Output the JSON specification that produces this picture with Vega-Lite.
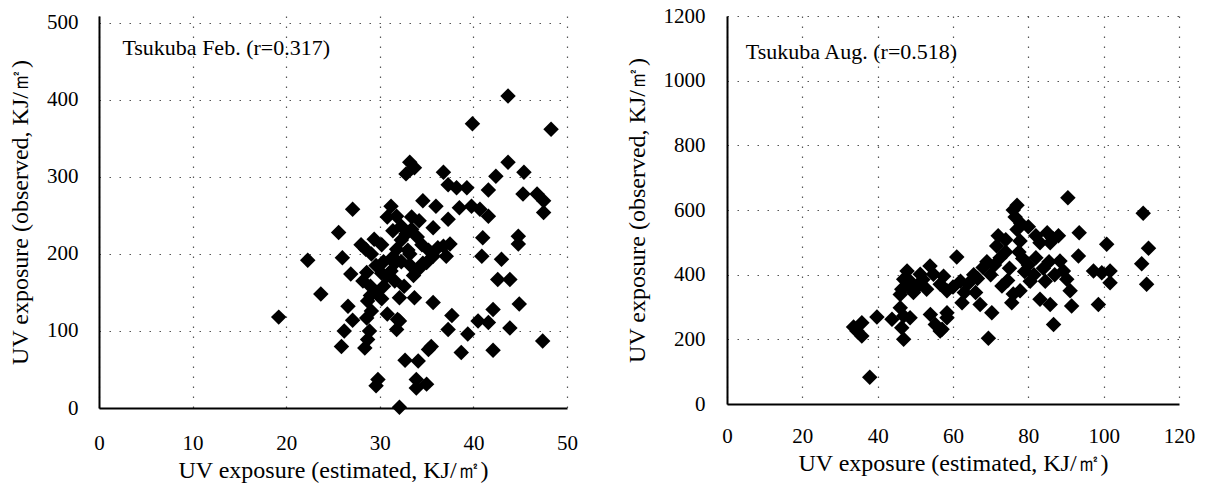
{
  "$schema": "https://vega.github.io/schema/vega-lite/v6.json",
  "background": "white",
  "padding": {"left": 8, "top": 5, "right": 5, "bottom": 2},
  "spacing": 47,
  "config": {
    "view": {"stroke": null},
    "font": "Liberation Serif",
    "axis": {
      "labelFont": "Liberation Serif",
      "titleFont": "Liberation Serif",
      "labelFontSize": 21,
      "titleFontSize": 24,
      "titleFontWeight": "normal",
      "labelColor": "black",
      "titleColor": "black",
      "domainColor": "black",
      "domainWidth": 2,
      "ticks": false,
      "tickSize": 0,
      "gridColor": "#555",
      "gridWidth": 1.2,
      "gridDash": [1.5, 8.5],
      "labelFlush": false,
      "labelOverlap": false,
      "format": "d"
    }
  },
  "datasets": {
    "feb": [
      {"est": 19.2, "obs": 118}, {"est": 22.3, "obs": 192}, {"est": 23.7, "obs": 148}, {"est": 26.0, "obs": 195},
      {"est": 25.6, "obs": 228}, {"est": 26.6, "obs": 132}, {"est": 27.1, "obs": 114}, {"est": 26.2, "obs": 100},
      {"est": 25.9, "obs": 80}, {"est": 26.9, "obs": 174}, {"est": 28.7, "obs": 139}, {"est": 29.1, "obs": 126},
      {"est": 28.6, "obs": 117}, {"est": 28.9, "obs": 100}, {"est": 28.7, "obs": 89}, {"est": 28.4, "obs": 78},
      {"est": 31.9, "obs": 115}, {"est": 31.8, "obs": 102}, {"est": 33.7, "obs": 143}, {"est": 32.7, "obs": 62},
      {"est": 34.1, "obs": 61}, {"est": 29.8, "obs": 37}, {"est": 29.6, "obs": 29}, {"est": 33.9, "obs": 37},
      {"est": 33.9, "obs": 26}, {"est": 32.1, "obs": 1}, {"est": 35.2, "obs": 76}, {"est": 35.5, "obs": 80},
      {"est": 35.0, "obs": 31}, {"est": 32.1, "obs": 143}, {"est": 35.7, "obs": 137}, {"est": 32.1, "obs": 113},
      {"est": 37.7, "obs": 120}, {"est": 37.3, "obs": 102}, {"est": 39.4, "obs": 96}, {"est": 38.7, "obs": 72},
      {"est": 40.5, "obs": 113}, {"est": 41.6, "obs": 111}, {"est": 42.1, "obs": 128}, {"est": 43.9, "obs": 104},
      {"est": 42.1, "obs": 75}, {"est": 44.9, "obs": 135}, {"est": 47.4, "obs": 87}, {"est": 42.6, "obs": 167},
      {"est": 43.9, "obs": 167}, {"est": 40.9, "obs": 197}, {"est": 43.0, "obs": 193}, {"est": 33.2, "obs": 200},
      {"est": 35.7, "obs": 197}, {"est": 37.1, "obs": 197}, {"est": 34.3, "obs": 182}, {"est": 43.7, "obs": 405},
      {"est": 39.9, "obs": 369}, {"est": 48.3, "obs": 362}, {"est": 43.7, "obs": 319}, {"est": 45.4, "obs": 306},
      {"est": 42.4, "obs": 301}, {"est": 41.6, "obs": 283}, {"est": 33.2, "obs": 319}, {"est": 33.7, "obs": 312},
      {"est": 32.8, "obs": 304}, {"est": 36.8, "obs": 306}, {"est": 37.3, "obs": 290}, {"est": 38.2, "obs": 286},
      {"est": 39.3, "obs": 286}, {"est": 45.3, "obs": 278}, {"est": 46.8, "obs": 278}, {"est": 47.5, "obs": 269},
      {"est": 47.5, "obs": 254}, {"est": 34.6, "obs": 269}, {"est": 36.0, "obs": 262}, {"est": 33.4, "obs": 248},
      {"est": 37.3, "obs": 245}, {"est": 35.7, "obs": 234}, {"est": 38.5, "obs": 260}, {"est": 39.8, "obs": 262},
      {"est": 40.7, "obs": 258}, {"est": 41.6, "obs": 249}, {"est": 41.0, "obs": 221}, {"est": 44.8, "obs": 223},
      {"est": 44.8, "obs": 213}, {"est": 36.8, "obs": 210}, {"est": 37.5, "obs": 213}, {"est": 35.0, "obs": 189},
      {"est": 27.1, "obs": 258}, {"est": 29.4, "obs": 219}, {"est": 31.2, "obs": 262}, {"est": 31.8, "obs": 249},
      {"est": 28.0, "obs": 212}, {"est": 28.5, "obs": 206}, {"est": 29.1, "obs": 200}, {"est": 28.2, "obs": 165},
      {"est": 29.0, "obs": 158}, {"est": 29.6, "obs": 150}, {"est": 30.4, "obs": 158}, {"est": 30.8, "obs": 172},
      {"est": 29.6, "obs": 185}, {"est": 30.4, "obs": 190}, {"est": 31.4, "obs": 196}, {"est": 31.8, "obs": 206},
      {"est": 32.3, "obs": 218}, {"est": 32.8, "obs": 226}, {"est": 33.4, "obs": 232}, {"est": 34.0, "obs": 222},
      {"est": 34.5, "obs": 212}, {"est": 33.0, "obs": 205}, {"est": 32.3, "obs": 190}, {"est": 31.2, "obs": 178},
      {"est": 30.2, "obs": 175}, {"est": 31.6, "obs": 165}, {"est": 32.6, "obs": 158}, {"est": 33.6, "obs": 172},
      {"est": 34.6, "obs": 188}, {"est": 35.2, "obs": 205}, {"est": 36.2, "obs": 208}, {"est": 34.2, "obs": 243},
      {"est": 31.4, "obs": 230}, {"est": 30.2, "obs": 212}, {"est": 28.6, "obs": 176}, {"est": 30.2, "obs": 142},
      {"est": 29.0, "obs": 146}, {"est": 30.8, "obs": 122}, {"est": 31.6, "obs": 188}, {"est": 33.2, "obs": 186},
      {"est": 30.8, "obs": 248}, {"est": 32.3, "obs": 236}
    ],
    "aug": [
      {"est": 37.9, "obs": 83}, {"est": 33.6, "obs": 238}, {"est": 35.8, "obs": 251}, {"est": 35.8, "obs": 210},
      {"est": 34.5, "obs": 226}, {"est": 39.8, "obs": 269}, {"est": 43.8, "obs": 262}, {"est": 46.0, "obs": 298},
      {"est": 46.9, "obs": 272}, {"est": 48.6, "obs": 267}, {"est": 46.4, "obs": 236}, {"est": 46.9, "obs": 200},
      {"est": 47.8, "obs": 411}, {"est": 46.9, "obs": 386}, {"est": 46.4, "obs": 355}, {"est": 46.0, "obs": 339},
      {"est": 48.6, "obs": 380}, {"est": 51.3, "obs": 401}, {"est": 53.9, "obs": 427}, {"est": 50.4, "obs": 360},
      {"est": 54.8, "obs": 401}, {"est": 56.6, "obs": 370}, {"est": 58.4, "obs": 350}, {"est": 54.0, "obs": 277},
      {"est": 55.3, "obs": 246}, {"est": 56.6, "obs": 226}, {"est": 58.4, "obs": 267}, {"est": 48.3, "obs": 369},
      {"est": 49.5, "obs": 345}, {"est": 52.0, "obs": 385}, {"est": 53.0, "obs": 355}, {"est": 57.5, "obs": 395},
      {"est": 61.0, "obs": 455}, {"est": 69.4, "obs": 203}, {"est": 86.7, "obs": 246}, {"est": 62.4, "obs": 313},
      {"est": 67.2, "obs": 308}, {"est": 70.3, "obs": 282}, {"est": 58.4, "obs": 282}, {"est": 57.1, "obs": 231},
      {"est": 83.1, "obs": 324}, {"est": 85.8, "obs": 308}, {"est": 77.8, "obs": 350}, {"est": 75.6, "obs": 313},
      {"est": 71.6, "obs": 489}, {"est": 77.8, "obs": 504}, {"est": 83.1, "obs": 499}, {"est": 85.8, "obs": 499},
      {"est": 88.4, "obs": 442}, {"est": 89.3, "obs": 411}, {"est": 111.9, "obs": 482}, {"est": 110.1, "obs": 434},
      {"est": 111.4, "obs": 370}, {"est": 100.8, "obs": 494}, {"est": 93.3, "obs": 458}, {"est": 97.3, "obs": 411},
      {"est": 99.5, "obs": 406}, {"est": 101.7, "obs": 411}, {"est": 101.7, "obs": 375}, {"est": 98.6, "obs": 308},
      {"est": 90.2, "obs": 386}, {"est": 91.1, "obs": 350}, {"est": 91.5, "obs": 303}, {"est": 110.5, "obs": 590},
      {"est": 76.0, "obs": 600}, {"est": 77.0, "obs": 615}, {"est": 76.5, "obs": 578}, {"est": 90.5, "obs": 638},
      {"est": 78.0, "obs": 558}, {"est": 80.0, "obs": 548}, {"est": 72.0, "obs": 520}, {"est": 74.0, "obs": 508},
      {"est": 85.0, "obs": 530}, {"est": 88.0, "obs": 520}, {"est": 93.5, "obs": 530}, {"est": 82.0, "obs": 520},
      {"est": 60.0, "obs": 362}, {"est": 62.0, "obs": 380}, {"est": 64.0, "obs": 372}, {"est": 65.5, "obs": 400},
      {"est": 66.5, "obs": 388}, {"est": 68.0, "obs": 422}, {"est": 69.0, "obs": 440}, {"est": 70.0, "obs": 400},
      {"est": 71.0, "obs": 430}, {"est": 72.5, "obs": 452}, {"est": 74.0, "obs": 470}, {"est": 74.5, "obs": 382},
      {"est": 75.0, "obs": 420}, {"est": 76.0, "obs": 340}, {"est": 77.0, "obs": 540}, {"est": 77.5, "obs": 470},
      {"est": 78.5, "obs": 450}, {"est": 79.0, "obs": 410}, {"est": 80.0, "obs": 430}, {"est": 80.5, "obs": 380},
      {"est": 81.5, "obs": 400}, {"est": 82.0, "obs": 452}, {"est": 84.0, "obs": 420}, {"est": 84.5, "obs": 380},
      {"est": 85.5, "obs": 440}, {"est": 86.5, "obs": 512}, {"est": 87.0, "obs": 400}, {"est": 73.0, "obs": 365},
      {"est": 66.0, "obs": 345}, {"est": 63.0, "obs": 345}
    ]
  },
  "hconcat": [
    {
      "width": 468,
      "height": 392,
      "layer": [
        {
          "data": {"name": "feb"},
          "mark": {"type": "point", "shape": "diamond", "filled": true, "color": "black", "opacity": 1, "size": 240},
          "encoding": {
            "x": {"field": "est", "type": "quantitative",
              "scale": {"domain": [0, 50], "nice": false},
              "axis": {"title": "UV exposure (estimated, KJ/㎡)", "values": [0, 10, 20, 30, 40, 50], "labelPadding": 24, "titlePadding": 5}},
            "y": {"field": "obs", "type": "quantitative",
              "scale": {"domain": [0, 509], "nice": false},
              "axis": {"title": "UV exposure (observed, KJ/㎡)", "values": [0, 100, 200, 300, 400, 500], "labelPadding": 21, "titlePadding": 14}}
          }
        },
        {
          "data": {"values": [{"est": 2.5, "obs": 467, "label": "Tsukuba Feb. (r=0.317)"}]},
          "mark": {"type": "text", "align": "left", "baseline": "middle", "fontSize": 22, "font": "Liberation Serif", "color": "black"},
          "encoding": {
            "x": {"field": "est", "type": "quantitative"},
            "y": {"field": "obs", "type": "quantitative"},
            "text": {"field": "label"}
          }
        }
      ]
    },
    {
      "width": 452,
      "height": 388,
      "layer": [
        {
          "data": {"name": "aug"},
          "mark": {"type": "point", "shape": "diamond", "filled": true, "color": "black", "opacity": 1, "size": 240},
          "encoding": {
            "x": {"field": "est", "type": "quantitative",
              "scale": {"domain": [0, 120], "nice": false},
              "axis": {"title": "UV exposure (estimated, KJ/㎡)", "values": [0, 20, 40, 60, 80, 100, 120], "labelPadding": 21, "titlePadding": 5}},
            "y": {"field": "obs", "type": "quantitative",
              "scale": {"domain": [0, 1200], "nice": false},
              "axis": {"title": "UV exposure (observed, KJ/㎡)", "values": [0, 200, 400, 600, 800, 1000, 1200], "labelPadding": 22, "titlePadding": 14}}
          }
        },
        {
          "data": {"values": [{"est": 5, "obs": 1090, "label": "Tsukuba Aug. (r=0.518)"}]},
          "mark": {"type": "text", "align": "left", "baseline": "middle", "fontSize": 22, "font": "Liberation Serif", "color": "black"},
          "encoding": {
            "x": {"field": "est", "type": "quantitative"},
            "y": {"field": "obs", "type": "quantitative"},
            "text": {"field": "label"}
          }
        }
      ]
    }
  ]
}
